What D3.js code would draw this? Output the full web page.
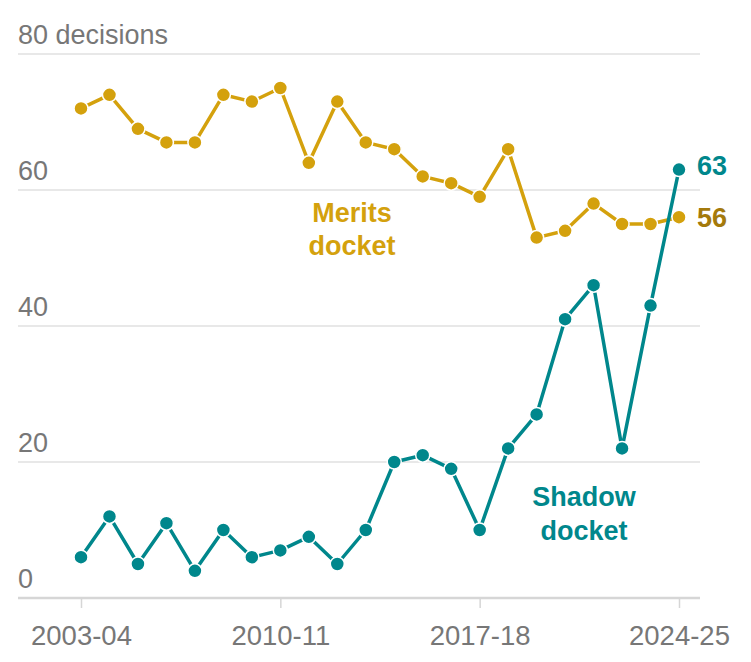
<!DOCTYPE html>
<html><head><meta charset="utf-8">
<script src="https://cdn.jsdelivr.net/npm/d3@7"></script>
<style>body{margin:0;background:#fff}svg{display:block}text{font-family:"Liberation Sans",Arial,sans-serif}</style>
</head><body>
<script>
const seasons = ["2003-04","2004-05","2005-06","2006-07","2007-08","2008-09","2009-10","2010-11","2011-12","2012-13","2013-14","2014-15","2015-16","2016-17","2017-18","2018-19","2019-20","2020-21","2021-22","2022-23","2023-24","2024-25"];
const merits = [72,74,69,67,67,74,73,75,64,73,67,66,62,61,59,66,53,54,58,55,55,56];
const shadow = [6,12,5,11,4,10,6,7,9,5,10,20,21,19,10,22,27,41,46,22,43,63];
const xTicks = ["2003-04","2010-11","2017-18","2024-25"];
const yTicks = [0,20,40,60,80];

const W=751,H=662;
const gold="#D4A10D", goldDark="#A47A0C", teal="#00878C", grey="#777";
const svg=d3.select("body").append("svg").attr("width",W).attr("height",H);
const x=d3.scalePoint().domain(seasons).range([81,679]);
const y=d3.scaleLinear().domain([0,80]).range([598,54]);

// grid
svg.append("g").selectAll("line").data(yTicks).join("line")
  .attr("x1",18).attr("x2",700).attr("y1",d=>y(d)).attr("y2",d=>y(d))
  .attr("stroke",d=>d===0?"#d6d6d6":"#e0e0e0").attr("stroke-width",d=>d===0?2.5:1.5);
svg.append("g").selectAll("text").data(yTicks).join("text")
  .attr("x",18).attr("y",d=>y(d)-10).attr("fill",grey).attr("font-size",27)
  .text(d=>d===80?"80 decisions":d);

// x axis
const xa=svg.append("g").attr("transform","translate(0,598)")
  .call(d3.axisBottom(x).tickValues(xTicks).tickSize(10).tickPadding(0));
xa.select(".domain").remove();
xa.selectAll(".tick line").attr("stroke","#d6d6d6").attr("stroke-width",1.5);
xa.selectAll(".tick text").attr("fill",grey).attr("font-size",27.5).attr("font-family","'Liberation Sans',Arial,sans-serif")
  .attr("dy",null).attr("y",47);

function series(vals,color){
  const g=svg.append("g");
  g.append("path").datum(vals).attr("fill","none").attr("stroke",color).attr("stroke-width",3.5)
    .attr("stroke-linejoin","round")
    .attr("d",d3.line().x((d,i)=>x(seasons[i])).y(d=>y(d)));
  g.selectAll("circle").data(vals).join("circle")
    .attr("cx",(d,i)=>x(seasons[i])).attr("cy",d=>y(d)).attr("r",7)
    .attr("fill",color).attr("stroke","#fff").attr("stroke-width",1.5);
}
series(merits,gold);
series(shadow,teal);

// end labels
svg.append("text").attr("x",697).attr("y",y(63)+5).attr("fill",teal).attr("font-size",27).attr("font-weight",700).text(shadow[shadow.length-1]);
svg.append("text").attr("x",697).attr("y",y(56)+10).attr("fill",goldDark).attr("font-size",27).attr("font-weight",700).text(merits[merits.length-1]);

// series labels
const ml=svg.append("text").attr("fill",gold).attr("font-size",27).attr("font-weight",700).attr("text-anchor","middle");
ml.append("tspan").attr("x",352).attr("y",222).text("Merits");
ml.append("tspan").attr("x",352).attr("y",255).text("docket");
const sl=svg.append("text").attr("fill",teal).attr("font-size",27).attr("font-weight",700).attr("text-anchor","middle");
sl.append("tspan").attr("x",584).attr("y",506).text("Shadow");
sl.append("tspan").attr("x",584).attr("y",540).text("docket");
</script>
</body></html>
